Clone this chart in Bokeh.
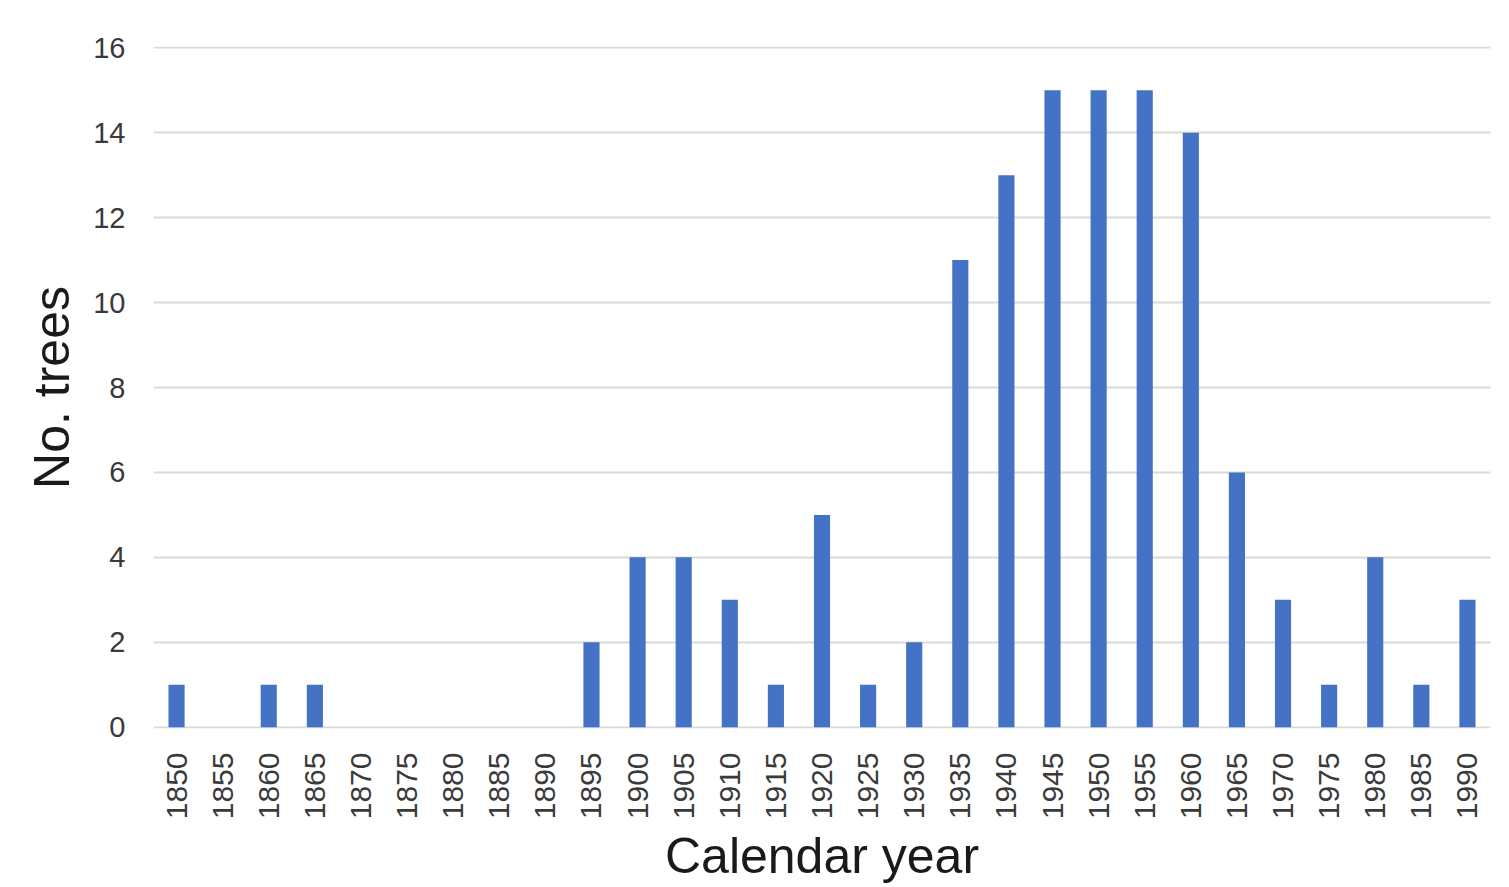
from bokeh.plotting import figure
from bokeh.models import ColumnDataSource, Range1d, FixedTicker
from bokeh.embed import file_html
from bokeh.resources import INLINE

years = [str(y) for y in range(1850, 1995, 5)]
counts = [1, 0, 1, 1, 0, 0, 0, 0, 0, 2, 4, 4, 3, 1, 5, 1, 2, 11, 13, 15, 15, 15, 14, 6, 3, 1, 4, 1, 3]
y_ticks = [0, 2, 4, 6, 8, 10, 12, 14, 16]

src = ColumnDataSource(data=dict(year=years, n=counts))

p = figure(x_range=years, y_range=Range1d(-0.03, 16.03), width=1501, height=887,
           output_backend="svg", toolbar_location=None,
           min_border_left=153, min_border_right=11, min_border_top=46, min_border_bottom=157)
p.x_range.range_padding = 0
p.vbar(x="year", top="n", bottom=0, width=0.35, source=src, color="#4472C4", line_color=None)

p.outline_line_color = None
p.xgrid.grid_line_color = None
p.ygrid.grid_line_color = "#d9d9d9"
p.ygrid.grid_line_width = 2
p.ygrid.level = "underlay"
p.yaxis.ticker = FixedTicker(ticks=y_ticks)

for ax in (p.xaxis, p.yaxis):
    ax.axis_line_color = None
    ax.major_tick_line_color = None
    ax.minor_tick_line_color = None
    ax.major_label_text_font = "Liberation Sans"
    ax.major_label_text_color = "#3a3a3a"
    ax.axis_label_text_font = "Liberation Sans"
    ax.axis_label_text_font_style = "normal"
    ax.axis_label_text_color = "#1a1a1a"

p.xaxis.major_label_text_font_size = "30px"
p.yaxis.major_label_text_font_size = "29px"
p.xaxis.major_label_orientation = 1.5708
p.xaxis.major_label_standoff = 18
p.yaxis.major_label_standoff = 22
p.xaxis.axis_label = "Calendar year"
p.xaxis.axis_label_text_font_size = "50px"
p.xaxis.axis_label_text_line_height = 0.9
p.xaxis.axis_label_standoff = 6
p.yaxis.axis_label = "No. trees"
p.yaxis.axis_label_text_font_size = "50px"
p.yaxis.axis_label_standoff = 10

open("out.html", "w").write(file_html(p, INLINE))
